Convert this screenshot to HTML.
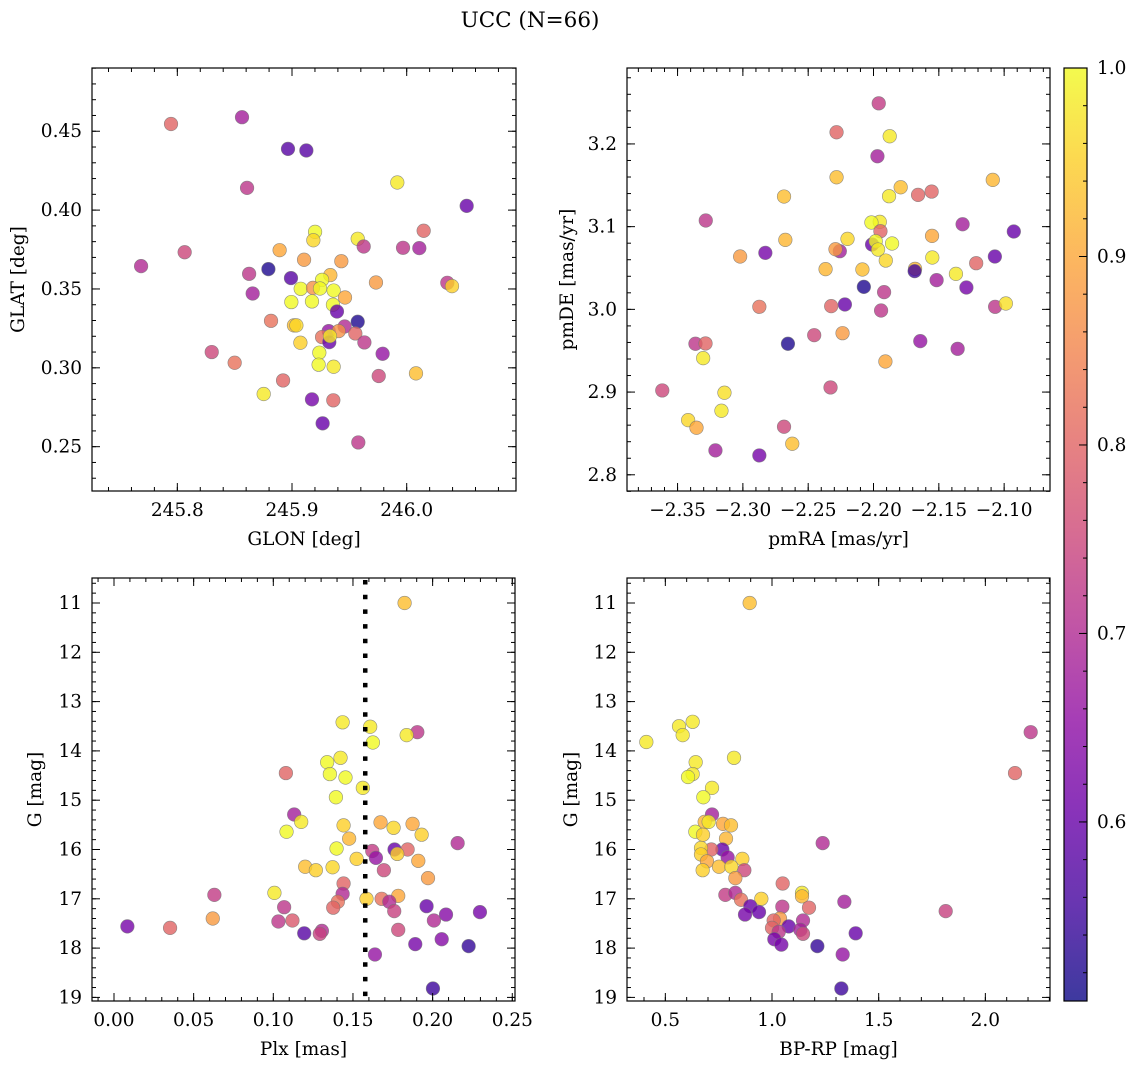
<!DOCTYPE html>
<html><head><meta charset="utf-8"><style>
html,body{margin:0;padding:0;background:#fff}
svg{display:block;font-family:"DejaVu Serif","Liberation Serif",serif}
</style></head><body>
<svg id="fig" width="1136" height="1068" viewBox="0 0 1136 1068" xmlns="http://www.w3.org/2000/svg">
<defs>
<linearGradient id="plasma" x1="0" y1="1" x2="0" y2="0">
<stop offset="0" stop-color="#0d0887"/><stop offset="0.1" stop-color="#41049d"/><stop offset="0.2" stop-color="#6a00a8"/><stop offset="0.3" stop-color="#8f0da4"/><stop offset="0.4" stop-color="#b12a90"/><stop offset="0.5" stop-color="#cc4778"/><stop offset="0.6" stop-color="#e16462"/><stop offset="0.7" stop-color="#f2844b"/><stop offset="0.8" stop-color="#fca636"/><stop offset="0.9" stop-color="#fcce25"/><stop offset="1" stop-color="#f0f921"/>
</linearGradient>
</defs>
<text x="530" y="27" font-size="21.5" text-anchor="middle">UCC (N=66)</text>
</svg>
<script>
// Panel 1: GLON vs GLAT
const p1Glon=[245.7945,245.8564,245.8965,245.9125,245.8608,245.9918,246.0523,246.0148,245.9201,245.9186,245.9573,245.9625,245.9968,246.0110,245.8892,245.8064,245.7684,245.9105,245.9430,245.8794,245.8626,245.8991,245.9334,245.9262,245.9732,246.0354,246.0395,245.8657,245.9076,245.9183,245.9244,245.9363,245.9462,245.8994,245.9174,245.9357,245.9392,245.9573,245.8817,245.9017,245.9038,245.9459,245.9320,245.9407,245.9262,245.9552,245.9325,245.9331,245.9631,245.9073,245.8300,245.9790,245.9238,245.8500,245.9232,245.9363,246.0081,245.9756,245.8922,245.8753,245.9174,245.9360,245.9267,245.9578];
const p1Glat=[0.4546,0.4589,0.4388,0.4378,0.4141,0.4175,0.4027,0.3869,0.3862,0.3809,0.3818,0.3769,0.3761,0.3759,0.3746,0.3733,0.3645,0.3685,0.3676,0.3626,0.3596,0.3569,0.3588,0.3558,0.3541,0.3539,0.3518,0.3471,0.3501,0.3507,0.3503,0.3490,0.3446,0.3417,0.3421,0.3400,0.3357,0.3292,0.3298,0.3269,0.3269,0.3262,0.3233,0.3233,0.3195,0.3218,0.3163,0.3201,0.3161,0.3159,0.3100,0.3089,0.3096,0.3032,0.3020,0.3007,0.2965,0.2948,0.2920,0.2834,0.2800,0.2794,0.2648,0.2527];
const p1Prob=[0.8,0.68,0.58,0.58,0.72,0.98,0.6,0.8,1.0,0.96,0.98,0.72,0.72,0.68,0.9,0.75,0.7,0.88,0.88,0.52,0.72,0.58,0.92,1.0,0.88,0.72,0.95,0.68,1.0,0.87,1.0,1.0,0.9,1.0,1.0,1.0,0.6,0.52,0.82,0.93,0.96,0.7,0.66,0.87,0.82,0.8,0.6,0.98,0.72,0.95,0.75,0.66,1.0,0.82,1.0,0.98,0.93,0.75,0.8,0.98,0.62,0.8,0.6,0.72];
// Panel 2: pmRA vs pmDE
const p2Pmra=[-2.1960,-2.2283,-2.1876,-2.1970,-2.2283,-2.1087,-2.1792,-2.1555,-2.1659,-2.1881,-2.2685,-2.3284,-2.1318,-2.1952,-2.2016,-2.1947,-2.0926,-2.1552,-2.2675,-2.2199,-2.2011,-2.1983,-2.1858,-2.1965,-2.2258,-2.2291,-2.2828,-2.3021,-2.1071,-2.1550,-2.1906,-2.1214,-2.2367,-2.2085,-2.1682,-2.1685,-2.1369,-2.1517,-2.1289,-2.2074,-2.1919,-2.2219,-2.2324,-2.2874,-2.1069,-2.0987,-2.1942,-2.2237,-2.2454,-2.2655,-2.3363,-2.3286,-2.1642,-2.1356,-2.3304,-2.1909,-2.2329,-2.3617,-2.3141,-2.3164,-2.3419,-2.3355,-2.2685,-2.2622,-2.3210,-2.2874];
const p2Pmde=[3.2491,3.2141,3.2093,3.1851,3.1597,3.1565,3.1476,3.1424,3.1384,3.1368,3.1364,3.1074,3.1029,3.1058,3.1050,3.0945,3.0941,3.0888,3.0840,3.0852,3.0784,3.0824,3.0796,3.0723,3.0703,3.0727,3.0683,3.0639,3.0639,3.0627,3.0590,3.0558,3.0486,3.0482,3.0490,3.0462,3.0429,3.0353,3.0264,3.0272,3.0208,3.0059,3.0039,3.0031,3.0031,3.0071,2.9986,2.9712,2.9688,2.9584,2.9584,2.9588,2.9616,2.9523,2.9410,2.9370,2.9056,2.9020,2.8992,2.8774,2.8661,2.8569,2.8581,2.8375,2.8295,2.8234];
const p2Prob=[0.73,0.8,0.98,0.68,0.93,0.92,0.93,0.8,0.8,0.98,0.93,0.72,0.68,0.98,1.0,0.8,0.6,0.9,0.92,0.96,0.6,1.0,1.0,0.98,0.68,0.88,0.62,0.88,0.6,0.98,0.96,0.8,0.92,0.93,0.92,0.55,0.98,0.68,0.62,0.52,0.72,0.6,0.8,0.82,0.72,0.97,0.72,0.88,0.75,0.52,0.72,0.8,0.66,0.68,0.98,0.9,0.75,0.75,0.97,0.98,0.96,0.9,0.75,0.93,0.68,0.62];
// Panel 3: Plx vs G
const p3Plx=[0.1824,0.1435,0.1608,0.1904,0.1837,0.1625,0.1338,0.1422,0.1079,0.1355,0.1453,0.1562,0.1393,0.1131,0.1175,0.1083,0.1441,0.1673,0.1755,0.1874,0.1931,0.1476,0.2157,0.1397,0.1621,0.1761,0.1843,0.1778,0.1644,0.1523,0.1910,0.1200,0.1267,0.1372,0.1694,0.1971,0.1441,0.0630,0.1007,0.1435,0.1585,0.1680,0.1784,0.1728,0.1405,0.1376,0.1068,0.1759,0.1962,0.2084,0.2297,0.0620,0.1032,0.1120,0.2008,0.0084,0.0352,0.1305,0.1292,0.1194,0.1784,0.2057,0.1891,0.2226,0.1638,0.2002];
const p3G=[11.00,13.42,13.51,13.62,13.68,13.83,14.23,14.14,14.45,14.47,14.54,14.75,14.94,15.29,15.44,15.64,15.51,15.45,15.56,15.48,15.70,15.78,15.87,15.98,16.03,16.00,16.00,16.09,16.17,16.19,16.23,16.35,16.42,16.36,16.42,16.58,16.69,16.92,16.88,16.90,17.00,17.00,16.94,17.06,17.06,17.18,17.17,17.25,17.15,17.32,17.27,17.40,17.46,17.44,17.44,17.56,17.59,17.65,17.71,17.70,17.63,17.82,17.92,17.96,18.13,18.82];
const p3Prob=[0.93,0.98,0.98,0.72,0.98,1.0,1.0,0.98,0.8,1.0,1.0,0.98,1.0,0.68,0.98,1.0,0.95,0.9,0.96,0.9,0.95,0.92,0.7,1.0,0.73,0.6,0.8,0.95,0.66,0.95,0.9,0.93,0.95,0.96,0.75,0.88,0.8,0.73,0.98,0.7,0.95,0.82,0.9,0.7,0.82,0.8,0.72,0.74,0.6,0.64,0.62,0.88,0.72,0.78,0.7,0.62,0.8,0.7,0.74,0.58,0.75,0.64,0.62,0.54,0.66,0.55];
const plxMean=0.1577;
// Panel 4: BP-RP vs G
const p4Bprp=[0.8953,2.2125,0.6281,0.5641,0.5813,0.4109,0.8219,0.6422,2.1391,0.6281,0.6063,0.7188,0.6781,0.7188,0.6844,0.7031,0.7703,0.8078,0.6406,0.6766,0.7844,1.2375,0.7672,0.7156,0.6672,0.7922,0.6672,0.8609,0.6953,0.8703,0.6750,0.7516,0.8094,0.8281,1.05,1.1406,1.1406,0.7813,0.8281,0.95,0.8547,1.3391,0.8984,1.0484,1.1734,1.8141,0.9391,0.8734,1.0375,1.1453,1.0078,1.0781,1.0,1.0313,1.1328,1.1453,1.3922,1.0109,1.0438,1.2125,1.3313,1.325];
const p4G=[11.00,13.62,13.41,13.50,13.68,13.82,14.14,14.23,14.45,14.47,14.53,14.75,14.94,15.29,15.44,15.44,15.48,15.51,15.64,15.70,15.78,15.87,16.00,16.00,15.97,16.16,16.10,16.19,16.24,16.42,16.42,16.35,16.35,16.58,16.69,16.88,16.95,16.92,16.88,17.00,17.02,17.06,17.15,17.16,17.18,17.25,17.27,17.32,17.40,17.44,17.44,17.56,17.59,17.67,17.63,17.71,17.70,17.82,17.93,17.96,18.13,18.82];
const p4Prob=[0.93,0.72,0.98,0.98,0.98,0.98,0.98,0.98,0.8,0.98,1.0,0.98,1.0,0.68,0.92,0.98,0.9,0.93,1.0,0.95,0.92,0.7,0.6,0.8,0.96,0.66,0.95,0.95,0.9,0.75,0.95,0.93,0.96,0.88,0.8,0.98,0.92,0.73,0.7,0.95,0.82,0.68,0.6,0.72,0.8,0.74,0.6,0.62,0.88,0.7,0.8,0.6,0.8,0.72,0.68,0.75,0.6,0.62,0.62,0.54,0.66,0.55];
// Colorbar ticks
const cbTicks=[0.6,0.7,0.8,0.9,1.0];
const cbMin=0.505, cbMax=1.0;

const NS='http://www.w3.org/2000/svg';
const fig=document.getElementById('fig');
const FS=18.5;
const stops=[[13,8,135],[65,4,157],[106,0,168],[143,13,164],[177,42,144],[204,71,120],[225,100,98],[242,132,75],[252,166,54],[252,206,37],[240,249,33]];
function plasma(v){
  let t=(v-cbMin)/(cbMax-cbMin);t=Math.max(0,Math.min(1,t))*10;
  const i=Math.min(9,Math.floor(t)),f=t-i,a=stops[i],b=stops[i+1];
  return 'rgb('+[0,1,2].map(k=>Math.round(a[k]+(b[k]-a[k])*f)).join(',')+')';
}
function mk(tag,attrs,parent){const e=document.createElementNS(NS,tag);for(const k in attrs)e.setAttribute(k,attrs[k]);(parent||fig).appendChild(e);return e;}
function range(a,b,s){const r=[];for(let v=a;v<=b+s*1e-6;v+=s)r.push(+v.toFixed(6));return r;}

function panel(name,box,xlim,ylim,xs,ys,ps,xMaj,xMin,yMaj,yMin,fx,fy,xlab,ylab,ylabX){
  const g=mk('g',{});
  
  
  const X=v=>box.x0+(v-xlim[0])/(xlim[1]-xlim[0])*(box.x1-box.x0);
  const Y=v=>box.y1-(v-ylim[0])/(ylim[1]-ylim[0])*(box.y1-box.y0);
  for(let i=0;i<xs.length;i++){
    const c=mk('circle',{cx:X(xs[i]),cy:Y(ys[i]),r:6.8,fill:plasma(ps[i]),'fill-opacity':0.8,stroke:'#777','stroke-width':0.6,'stroke-opacity':0.8},g);
    
    
  }
  const fr=mk('rect',{x:box.x0,y:box.y0,width:box.x1-box.x0,height:box.y1-box.y0,fill:'none',stroke:'#000','stroke-width':1.2},g);
  
  
  const tk=(x1,y1,x2,y2)=>mk('line',{x1,y1,x2,y2,stroke:'#000','stroke-width':1},g);
  const inX=v=>{const p=X(v);return p>=box.x0-0.5&&p<=box.x1+0.5;};
  const inY=v=>{const p=Y(v);return p>=box.y0-0.5&&p<=box.y1+0.5;};
  xMin.filter(inX).forEach(v=>{const p=X(v);tk(p,box.y1,p,box.y1-4);tk(p,box.y0,p,box.y0+4);});
  yMin.filter(inY).forEach(v=>{const p=Y(v);tk(box.x0,p,box.x0+4,p);tk(box.x1,p,box.x1-4,p);});
  xMaj.filter(inX).forEach(v=>{const p=X(v);tk(p,box.y1,p,box.y1-8);tk(p,box.y0,p,box.y0+8);
    const t=mk('text',{x:p,y:box.y1+25,'font-size':FS,'text-anchor':'middle'},g);t.textContent=fx(v);
    
    });
  yMaj.filter(inY).forEach(v=>{const p=Y(v);tk(box.x0,p,box.x0+8,p);tk(box.x1,p,box.x1-8,p);
    const t=mk('text',{x:box.x0-10,y:p+6,'font-size':FS,'text-anchor':'end'},g);t.textContent=fy(v);
    
    });
  const xl=mk('text',{x:(box.x0+box.x1)/2,y:box.y1+54,'font-size':FS,'text-anchor':'middle'},g);xl.textContent=xlab;
  
  
  const cy=(box.y0+box.y1)/2;
  const yl=mk('text',{x:ylabX,y:cy,'font-size':FS,'text-anchor':'middle',transform:'rotate(-90 '+ylabX+' '+cy+')'},g);yl.textContent=ylab;
  
  
  return {X,Y,g};
}
const mfmt=d=>v=>(v<0?'\u2212':'')+Math.abs(v).toFixed(d);

panel('glon-glat-panel',{x0:92,x1:516,y0:68,y1:491},[245.7256,246.0953],[0.2219,0.4901],p1Glon,p1Glat,p1Prob,
  [245.8,245.9,246.0],range(245.72,246.10,0.02),range(0.25,0.45,0.05),range(0.22,0.49,0.01),mfmt(1),mfmt(2),'GLON [deg]','GLAT [deg]',24);
panel('pm-panel',{x0:627,x1:1050,y0:68,y1:491},[-2.3887,-2.0649],[2.7804,3.2918],p2Pmra,p2Pmde,p2Prob,
  range(-2.35,-2.10,0.05),range(-2.38,-2.07,0.01),range(2.8,3.2,0.1),range(2.78,3.28,0.02),mfmt(2),mfmt(1),'pmRA [mas/yr]','pmDE [mas/yr]',573);
const P3=panel('plx-g-panel',{x0:92,x1:515,y0:578,y1:1001},[-0.0138,0.2517],[-19.073,-10.493],p3Plx,p3G.map(v=>-v),p3Prob,
  range(0,0.25,0.05),range(-0.01,0.25,0.01),range(-19,-11,1),range(-19.0,-10.6,0.2),mfmt(2),v=>String(Math.round(-v)),'Plx [mas]','G [mag]',41);
panel('cmd-panel',{x0:627,x1:1050,y0:578,y1:1001},[0.3203,2.303],[-19.073,-10.493],p4Bprp,p4G.map(v=>-v),p4Prob,
  [0.5,1.0,1.5,2.0],range(0.4,2.3,0.1),range(-19,-11,1),range(-19.0,-10.6,0.2),mfmt(1),v=>String(Math.round(-v)),'BP-RP [mag]','G [mag]',577);

const ml=mk('line',{x1:P3.X(plxMean),x2:P3.X(plxMean),y1:580,y2:1001,stroke:'#000','stroke-width':4.5,'stroke-dasharray':'4.5 10.2'});



// Colorbar
const cb={x0:1064,x1:1087,y0:68,y1:1001};
const cbg=mk('g',{});


mk('rect',{x:cb.x0,y:cb.y0,width:cb.x1-cb.x0,height:cb.y1-cb.y0,fill:'url(#plasma)','fill-opacity':0.8},cbg);
mk('rect',{x:cb.x0,y:cb.y0,width:cb.x1-cb.x0,height:cb.y1-cb.y0,fill:'none',stroke:'#000','stroke-width':1.2},cbg);
const CY=v=>cb.y1-(v-cbMin)/(cbMax-cbMin)*(cb.y1-cb.y0);
range(0.52,1.0,0.02).forEach(v=>mk('line',{x1:cb.x1,x2:cb.x1-4,y1:CY(v),y2:CY(v),stroke:'#000','stroke-width':1},cbg));
cbTicks.forEach(v=>{const p=CY(v);mk('line',{x1:cb.x1,x2:cb.x1-8,y1:p,y2:p,stroke:'#000','stroke-width':1},cbg);
  const t=mk('text',{x:cb.x1+10,y:p+6,'font-size':FS},cbg);t.textContent=v.toFixed(1);
  
  });
</script>
</body></html>
